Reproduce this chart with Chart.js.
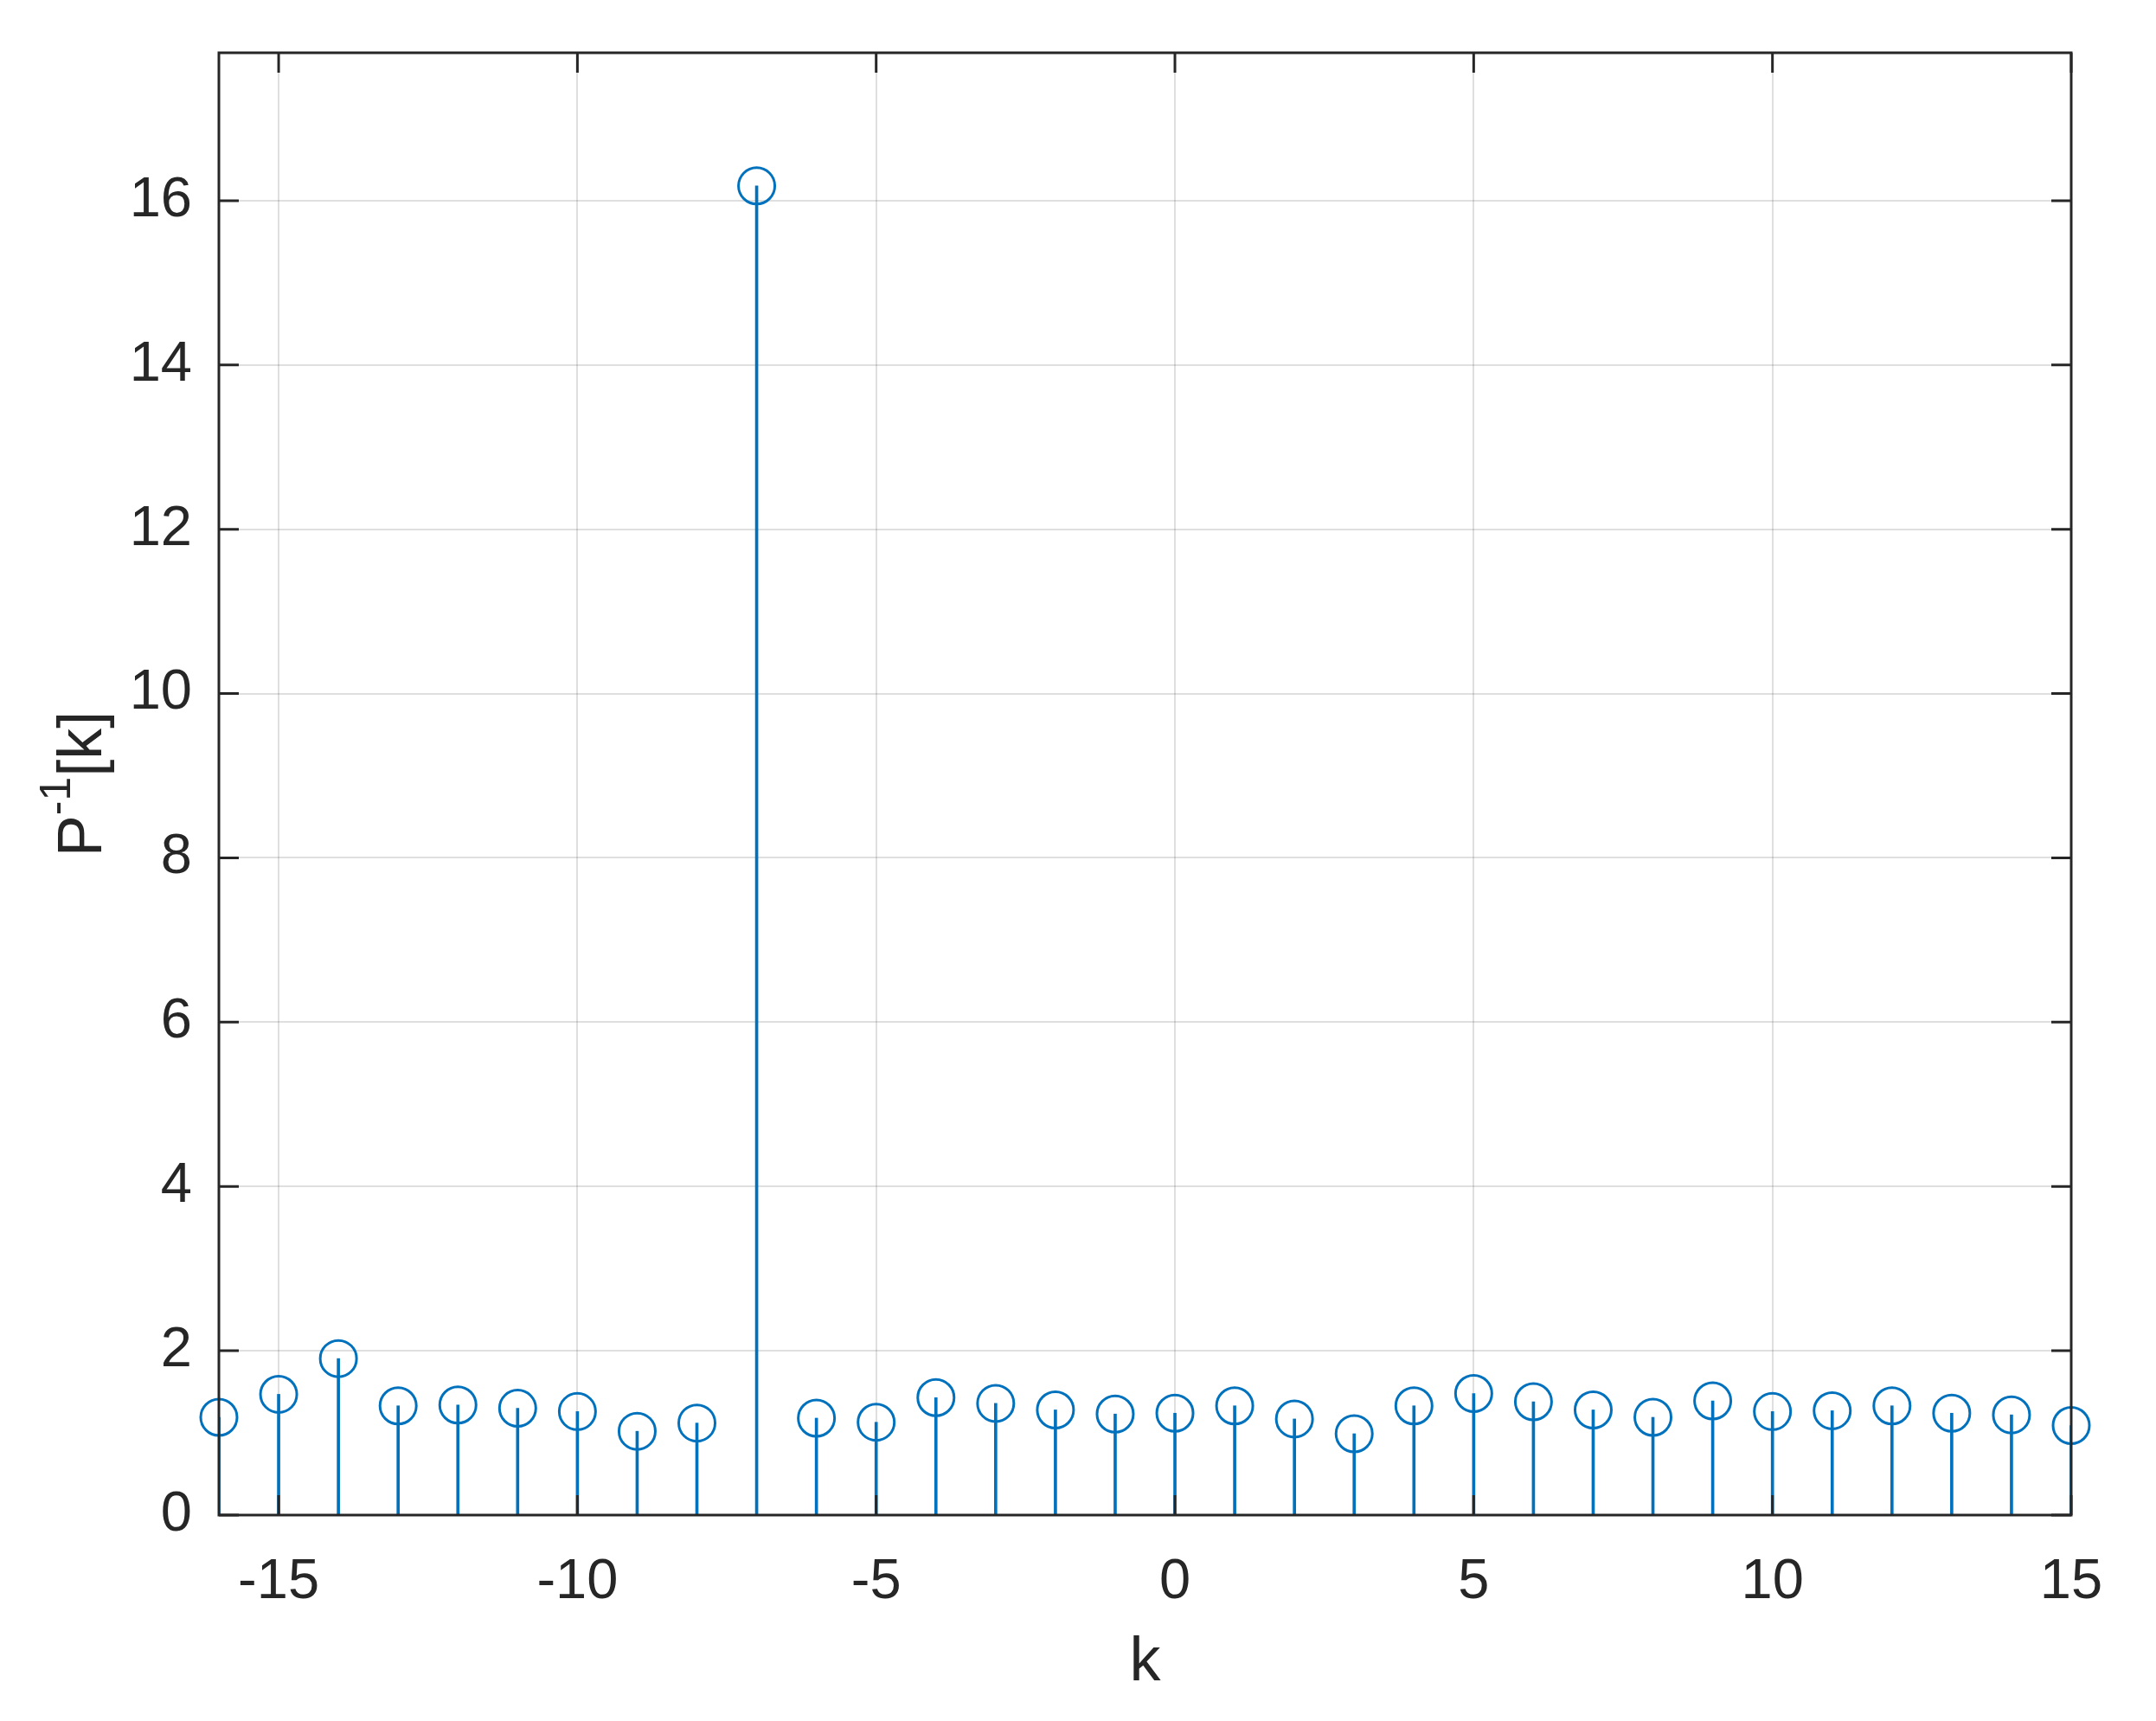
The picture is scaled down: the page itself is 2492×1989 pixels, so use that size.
<!DOCTYPE html>
<html>
<head>
<meta charset="utf-8">
<script src="https://cdn.jsdelivr.net/npm/chart.js@4.4.1/dist/chart.umd.min.js"></script>
<style>
  html, body { margin: 0; padding: 0; background: #fff; }
  canvas { display: block; }
</style>
</head>
<body>
<canvas id="stemChart" width="2492" height="1989"></canvas>
<script>
  // indices k and values P^-1[k]
  const kValues = [-16, -15, -14, -13, -12, -11, -10, -9, -8, -7, -6, -5, -4, -3, -2, -1,
                   0, 1, 2, 3, 4, 5, 6, 7, 8, 9, 10, 11, 12, 13, 14, 15];
  const pInvValues = [1.19, 1.47, 1.905, 1.33, 1.34, 1.30, 1.26, 1.02, 1.12, 16.18, 1.18, 1.13,
                      1.43, 1.36, 1.28, 1.23, 1.24, 1.33, 1.17, 0.99, 1.33, 1.48, 1.38, 1.28,
                      1.19, 1.39, 1.26, 1.27, 1.33, 1.24, 1.22, 1.09];
  const xTicks = [-15, -10, -5, 0, 5, 10, 15];
  const yTicks = [0, 2, 4, 6, 8, 10, 12, 14, 16];
  const xRange = [-16, 15];
  const yRange = [0, 17.8];

  const blue = '#0072BD';
  const axisColor = '#262626';
  const fontFamily = '"Liberation Sans", Arial, Helvetica, sans-serif';

  const points = kValues.map((k, i) => ({ x: k, y: pInvValues[i] }));

  // box round the plot, with inward ticks on all four sides (matlab style)
  const boxPlugin = {
    id: 'boxPlugin',
    afterDatasetsDraw(chart) {
      const { ctx, chartArea: a, scales } = chart;
      const tickLen = 23;
      ctx.save();
      ctx.strokeStyle = axisColor;
      ctx.lineWidth = 3;
      ctx.beginPath();
      xTicks.forEach(v => {
        const px = scales.x.getPixelForValue(v);
        ctx.moveTo(px, a.bottom); ctx.lineTo(px, a.bottom - tickLen);
        ctx.moveTo(px, a.top); ctx.lineTo(px, a.top + tickLen);
      });
      yTicks.forEach(v => {
        const py = scales.y.getPixelForValue(v);
        ctx.moveTo(a.left, py); ctx.lineTo(a.left + tickLen, py);
        ctx.moveTo(a.right, py); ctx.lineTo(a.right - tickLen, py);
      });
      ctx.stroke();
      ctx.strokeRect(a.left, a.top, a.right - a.left, a.bottom - a.top);
      ctx.restore();
    },
    afterDraw(chart) {
      const { ctx, chartArea: a } = chart;
      ctx.save();
      ctx.fillStyle = axisColor;
      // x label
      ctx.font = '72px ' + fontFamily;
      ctx.textAlign = 'center';
      ctx.textBaseline = 'alphabetic';
      ctx.fillText('k', (a.left + a.right) / 2, 1942);
      // y label P^-1[k]
      const big = '72px ' + fontFamily;
      const small = '50px ' + fontFamily;
      ctx.font = big;
      const wP = ctx.measureText('P').width;
      const wK = ctx.measureText('[k]').width;
      ctx.font = small;
      const wS = ctx.measureText('-1').width;
      const total = wP + wS + wK;
      ctx.translate(117, 906);
      ctx.rotate(-Math.PI / 2);
      ctx.textAlign = 'left';
      let x0 = -total / 2;
      ctx.font = big;
      ctx.fillText('P', x0, 0);
      x0 += wP;
      ctx.font = small;
      ctx.fillText('-1', x0, -36);
      x0 += wS;
      ctx.font = big;
      ctx.fillText('[k]', x0, 0);
      ctx.restore();
    }
  };

  const chart = new Chart(document.getElementById('stemChart').getContext('2d'), {
    type: 'scatter',
    data: {
      datasets: [
        {
          type: 'bar',
          data: points,
          backgroundColor: blue,
          borderWidth: 0,
          barThickness: 3,
          order: 2
        },
        {
          type: 'scatter',
          data: points,
          pointStyle: 'circle',
          pointRadius: 21,
          pointBorderWidth: 3,
          pointBackgroundColor: 'rgba(0,0,0,0)',
          pointBorderColor: blue,
          clip: false,
          order: 1
        }
      ]
    },
    options: {
      responsive: false,
      devicePixelRatio: 1,
      animation: false,
      layout: { padding: { top: 61, right: 98, left: 0, bottom: 0 } },
      plugins: {
        legend: { display: false },
        tooltip: { enabled: false }
      },
      scales: {
        x: {
          type: 'linear',
          min: xRange[0],
          max: xRange[1],
          offset: false,
          afterBuildTicks: s => { s.ticks = xTicks.map(v => ({ value: v })); },
          afterFit: s => { s.height = 238; s.paddingLeft = 0; s.paddingRight = 0; },
          grid: { color: 'rgba(38,38,38,0.15)', lineWidth: 2, drawTicks: false, offset: false },
          border: { display: false },
          ticks: {
            color: axisColor,
            font: { family: fontFamily, size: 65 },
            padding: 39,
            maxRotation: 0,
            callback: v => String(v)
          }
        },
        y: {
          type: 'linear',
          min: yRange[0],
          max: yRange[1],
          afterBuildTicks: s => { s.ticks = yTicks.map(v => ({ value: v })); },
          afterFit: s => { s.width = 253; s.paddingTop = 0; s.paddingBottom = 0; },
          grid: { color: 'rgba(38,38,38,0.15)', lineWidth: 2, drawTicks: false },
          border: { display: false },
          ticks: {
            color: axisColor,
            font: { family: fontFamily, size: 65 },
            padding: 31,
            callback: v => String(v)
          }
        }
      }
    },
    plugins: [boxPlugin]
  });
</script>
</body>
</html>
